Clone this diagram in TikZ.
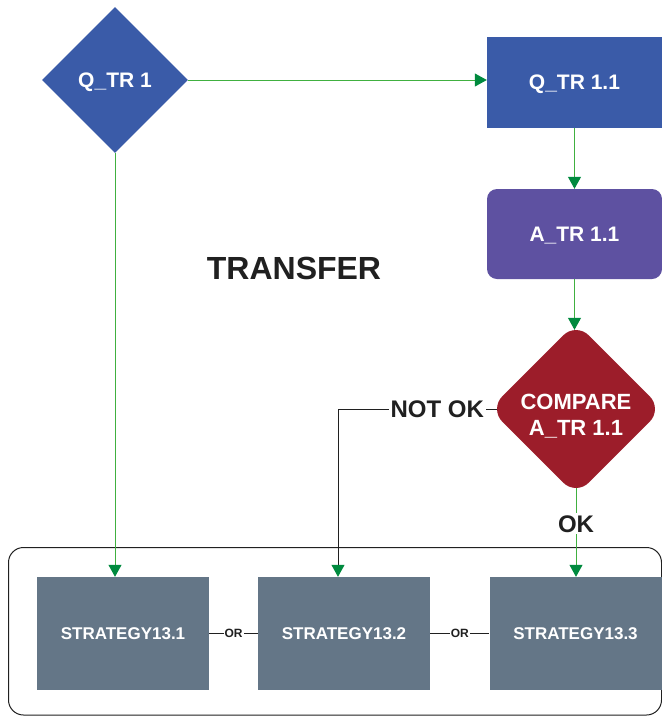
\documentclass[tikz,border=0pt]{standalone}
\usepackage{fontspec}
\setmainfont{Liberation Sans}
\usetikzlibrary{shapes.geometric,arrows.meta}
\definecolor{qblue}{RGB}{58,91,168}
\definecolor{apurple}{RGB}{94,81,161}
\definecolor{cred}{RGB}{156,29,42}
\definecolor{sgray}{RGB}{100,118,135}
\definecolor{lgreen}{RGB}{64,176,64}
\definecolor{tgreen}{RGB}{0,138,62}
\definecolor{ink}{RGB}{32,32,32}
\begin{document}
\begin{tikzpicture}[x=1pt,y=-1pt,
  gtip/.style={-{Triangle[length=12pt,width=13pt,color=tgreen,fill=tgreen]}},
  gline/.style={draw=lgreen,line width=1pt,gtip},
  bline/.style={draw=ink,line width=1pt},
  dia/.style={diamond,aspect=1,inner sep=0pt,text=white,text depth=0pt,font=\bfseries\fontsize{21}{24}\selectfont},
  boxq/.style={rectangle,inner sep=0pt,text=white,text depth=0pt,font=\bfseries\fontsize{21}{24}\selectfont},
  strat/.style={rectangle,fill=sgray,minimum width=172pt,minimum height=113pt,inner sep=0pt,text=white,text depth=0pt,font=\bfseries\fontsize{17}{20}\selectfont},
  orlab/.style={fill=white,inner sep=1pt,text=ink,font=\bfseries\fontsize{12}{14}\selectfont},
  biglab/.style={fill=white,inner sep=2pt,text=ink,text depth=0pt,font=\bfseries\fontsize{24}{28}\selectfont}]
\useasboundingbox (0,0) rectangle (662,716);
% container
\draw[ink,line width=1pt,rounded corners=15pt] (8.5,547.5) rectangle (661.5,715);
% nodes
\node[dia,fill=qblue,minimum size=146pt] (q1) at (115,80) {Q\_TR 1};
\node[boxq,fill=qblue,minimum width=175pt,minimum height=91pt] (q11) at (574.5,82.5) {Q\_TR 1.1};
\node[boxq,fill=apurple,rounded corners=10pt,minimum width=175pt,minimum height=90pt] (a11) at (574.5,234) {A\_TR 1.1};
\node[dia,fill=cred,rounded corners=18pt,minimum size=173pt] (cmp) at (576,409) {};
\node[text=white,align=center,inner sep=0pt,text depth=0pt,font=\bfseries\fontsize{22}{26}\selectfont] (cmpt) at (576,415) {COMPARE\\A\_TR 1.1};
\node[text=ink,text depth=0pt,font=\bfseries\fontsize{32}{36}\selectfont] (tr) at (294,268) {TRANSFER};
\node[strat] (s1) at (123,633.5) {STRATEGY13.1};
\node[strat] (s2) at (344,633.5) {STRATEGY13.2};
\node[strat] (s3) at (575.5,633.5) {STRATEGY13.3};
% connectors
\draw[gline] (q1.east) -- (q1.east -| q11.west);
\draw[gline] (q11.south) -- (q11.south |- a11.north);
\draw[gline] (a11.south) -- ([yshift=-7.5pt]a11.south |- cmp.north);
\draw[gline] (q1.south) -- (q1.south |- s1.north);
\coordinate (nk) at (338,409);
\draw[bline,gtip] ([xshift=7.5pt]cmp.west) -- node[biglab,pos=0.375]{NOT OK} (nk) -- (nk |- s2.north);
\draw[gline] ([yshift=7.5pt]cmp.south) -- node[biglab,pos=0.4]{OK} (cmp.south |- s3.north);
\draw[bline] (s1.east) -- node[orlab]{OR} (s2.west);
\draw[bline] (s2.east) -- node[orlab]{OR} (s3.west);
\end{tikzpicture}
\end{document}
